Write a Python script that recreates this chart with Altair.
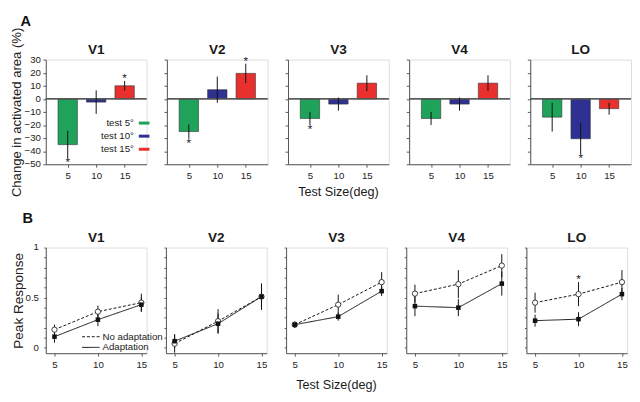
import altair as alt
import pandas as pd

# ---------------- data ----------------
regions = ["V1", "V2", "V3", "V4", "LO"]
sizes = [5, 10, 15]
size_labels = ["test 5°", "test 10°", "test 15°"]

# Panel A: change in activated area (%)
area_ticks = [-50, -40, -30, -20, -10, 0, 10, 20, 30]
area_change = {
    "V1": [-35, -2.5, 10],
    "V2": [-25, 7, 19.5],
    "V3": [-15, -4, 12],
    "V4": [-15, -4, 12],
    "LO": [-14, -30.5, -7.5],
}
area_err = {
    "V1": [10.5, 9, 3.7],
    "V2": [5.5, 10, 7.4],
    "V3": [5, 5, 6],
    "V4": [5, 5, 6],
    "LO": [11, 12, 4.6],
}
area_sig = {
    "V1": [1, 0, 1],
    "V2": [1, 0, 1],
    "V3": [1, 0, 0],
    "V4": [0, 0, 0],
    "LO": [0, 1, 0],
}

# Panel B: peak response
peak_ticks = [0, 0.1, 0.2, 0.3, 0.4, 0.5, 0.6, 0.7, 0.8, 0.9, 1]
peak_tick_labels = [0, 0.5, 1]
cond_labels = ["No adaptation", "Adaptation"]
no_adapt = {
    "V1": [0.18, 0.36, 0.45],
    "V2": [0.04, 0.265, 0.51],
    "V3": [0.23, 0.43, 0.655],
    "V4": [0.54, 0.635, 0.82],
    "LO": [0.45, 0.535, 0.655],
}
no_adapt_err = {
    "V1": [0.05, 0.06, 0.09],
    "V2": [0.09, 0.12, 0.13],
    "V3": [0.03, 0.1, 0.1],
    "V4": [0.09, 0.14, 0.115],
    "LO": [0.1, 0.12, 0.12],
}
adapt = {
    "V1": [0.11, 0.28, 0.43],
    "V2": [0.065, 0.24, 0.51],
    "V3": [0.23, 0.31, 0.565],
    "V4": [0.415, 0.40, 0.64],
    "LO": [0.27, 0.285, 0.535],
}
adapt_err = {
    "V1": [0.06, 0.065, 0.07],
    "V2": [0.07, 0.1, 0.13],
    "V3": [0.03, 0.04, 0.05],
    "V4": [0.1, 0.085, 0.12],
    "LO": [0.06, 0.07, 0.06],
}
peak_sig = {
    "V1": [0, 0, 0],
    "V2": [0, 0, 0],
    "V3": [0, 0, 0],
    "V4": [0, 0, 0],
    "LO": [0, 1, 0],
}
x_title = "Test Size(deg)"

# ---------------- style ----------------
FONT = "Liberation Sans"
bar_colors = ["#1fa25a", "#2e3192", "#e8312f"]
AX = "#555555"
PW = 104
HA = 108
HB = 109


def axis_common(**kw):
    base = dict(grid=False, domainColor=AX, tickColor=AX, labelFont=FONT,
                labelFontSize=10, labelColor="#222", titleFont=FONT,
                titleFontWeight="normal", titleColor="#222", tickSize=3,
                labelOverlap=False)
    base.update(kw)
    return alt.Axis(**base)


def text_layer(txt, x, y, size, weight="normal"):
    return alt.Chart(pd.DataFrame({"t": [txt]})).mark_text(
        font=FONT, fontSize=size, fontWeight=weight, color="#1a1a1a",
        baseline="middle").encode(text="t:N", x=alt.value(x), y=alt.value(y))


def tick_label_layer(values, ys, ya, xoff):
    return alt.Chart(pd.DataFrame({"tick": values})).mark_text(
        font=FONT, fontSize=10, color="#222", align="right", baseline="middle").encode(
        text=alt.Text("tick:Q", format="~g"), x=alt.value(xoff),
        y=alt.Y("tick:Q", scale=ys, axis=ya))


def panel_a(region, idx):
    first = idx == 0
    df = pd.DataFrame({
        "size": sizes,
        "cond": size_labels,
        "val": area_change[region],
        "err": area_err[region],
        "sig": area_sig[region],
    })
    df["lo"] = df["val"] - df["err"]
    df["hi"] = df["val"] + df["err"]
    df["zero"] = 0
    base = alt.Chart(df)
    xs = alt.Scale(domain=[2, 18], nice=False, zero=False)
    ys = alt.Scale(domain=[-50, 30], nice=False)
    xa = axis_common(values=sizes, title=None, labelPadding=4)
    ya = axis_common(values=area_ticks, labels=False,
                     title="Change in activated area (%)" if first else None,
                     titleFontSize=13.5, titlePadding=20)
    X = lambda f: alt.X(f, scale=xs, axis=xa)
    Y = lambda f: alt.Y(f, scale=ys, axis=ya)
    if first:
        leg = alt.Legend(title=None, orient="none", legendX=96, legendY=60,
                         symbolType="M-1,-0.28L1,-0.28L1,0.28L-1,0.28Z",
                         symbolSize=121, symbolStrokeWidth=0,
                         labelAlign="right", labelOffset={"expr": "-16"},
                         labelFont=FONT, labelFontSize=10, labelColor="#222",
                         rowPadding=2.5, padding=0)
    else:
        leg = None
    bars = base.mark_bar(size=20, stroke="#333", strokeWidth=0.6).encode(
        x=X("size:Q"), y=Y("val:Q"),
        color=alt.Color("cond:N", scale=alt.Scale(domain=size_labels, range=bar_colors),
                        legend=leg),
    )
    zero = base.mark_rule(color=AX, strokeWidth=1).encode(y=Y("zero:Q"))
    errs = base.mark_rule(color="#111", strokeWidth=1).encode(
        x=X("size:Q"), y=Y("lo:Q"), y2="hi:Q")
    star_neg = base.transform_filter("datum.sig == 1 && datum.val < 0").mark_text(
        text="*", baseline="top", fontSize=12, font=FONT, color="#111", dy=-1).encode(
        x=X("size:Q"), y=Y("lo:Q"))
    star_pos = base.transform_filter("datum.sig == 1 && datum.val > 0").mark_text(
        text="*", baseline="alphabetic", fontSize=12, font=FONT, color="#111", dy=1).encode(
        x=X("size:Q"), y=Y("hi:Q"))
    layers = [bars, zero, errs, star_neg, star_pos,
              text_layer(region, PW / 2, -10, 14, "bold")]
    if first:
        layers.append(tick_label_layer(area_ticks, ys, ya, -5))
    if idx == 2:
        layers.append(text_layer(x_title, PW / 2, HA + 29, 13))
    return alt.layer(*layers).properties(width=PW, height=HA)


def panel_b(region, idx):
    first = idx == 0
    rows = []
    for i, s in enumerate(sizes):
        rows.append({"size": s, "cond": cond_labels[0], "val": no_adapt[region][i],
                     "err": no_adapt_err[region][i], "sig": peak_sig[region][i]})
        rows.append({"size": s, "cond": cond_labels[1], "val": adapt[region][i],
                     "err": adapt_err[region][i], "sig": 0})
    df = pd.DataFrame(rows)
    df["lo"] = df["val"] - df["err"]
    df["hi"] = df["val"] + df["err"]
    base = alt.Chart(df)
    xs = alt.Scale(domain=[4, 15.6], nice=False, zero=False)
    ys = alt.Scale(domain=[-0.055, 1], nice=False, zero=False)
    xa = axis_common(values=sizes, title=None, labelPadding=4)
    ya = axis_common(values=peak_ticks, labels=False,
                     title="Peak Response" if first else None,
                     titleFontSize=14, titlePadding=19, tickSize=2)
    X = lambda f: alt.X(f, scale=xs, axis=xa)
    Y = lambda f: alt.Y(f, scale=ys, axis=ya)
    if first:
        leg = alt.Legend(title=None, orient="none", legendX=41.5, legendY=87,
                         symbolType="M-2,0L2,0", symbolSize=81,
                         symbolStrokeColor="#111", symbolStrokeWidth=1,
                         labelFont=FONT, labelFontSize=10, labelColor="#222",
                         labelOffset=7, rowPadding=1, padding=0)
    else:
        leg = None
    errs = base.mark_rule(color="#111", strokeWidth=1).encode(
        x=X("size:Q"), y=Y("lo:Q"), y2="hi:Q", detail="cond:N")
    lines = base.mark_line(color="#111", strokeWidth=1).encode(
        x=X("size:Q"), y=Y("val:Q"),
        strokeDash=alt.StrokeDash("cond:N", scale=alt.Scale(domain=cond_labels, range=[[3, 2], [1, 0]]),
                                  legend=leg))
    circles = base.transform_filter(alt.datum.cond == cond_labels[0]).mark_point(
        shape="circle", filled=True, fill="white", stroke="#111", strokeWidth=0.8,
        size=30, opacity=1).encode(x=X("size:Q"), y=Y("val:Q"))
    squares = base.transform_filter(alt.datum.cond == cond_labels[1]).mark_point(
        shape="square", filled=True, color="#111", size=22, opacity=1).encode(
        x=X("size:Q"), y=Y("val:Q"))
    star = base.transform_filter("datum.sig == 1").mark_text(
        text="*", baseline="alphabetic", fontSize=12, font=FONT, color="#111", dy=1).encode(
        x=X("size:Q"), y=Y("hi:Q"))
    layers = [lines, errs, circles, squares, star,
              text_layer(region, PW / 2, -10, 14, "bold")]
    if first:
        layers.append(tick_label_layer(peak_tick_labels, ys, ya, -7))
    if idx == 2:
        layers.append(text_layer(x_title, PW / 2, HB + 33, 13))
    return alt.layer(*layers).properties(width=PW, height=HB)


def row_title(letter, offset):
    return alt.TitleParams(letter, font=FONT, fontSize=15, fontWeight="bold",
                           color="#111", anchor="start", orient="top",
                           offset=offset, dx=12)


row_a = alt.hconcat(*[panel_a(r, i) for i, r in enumerate(regions)],
                    spacing=16, title=row_title("A", -2))
row_b = alt.hconcat(*[panel_b(r, i) for i, r in enumerate(regions)],
                    spacing=16, title=row_title("B", 5))

chart = alt.vconcat(row_a, row_b, spacing=11).resolve_scale(
    color="independent", strokeDash="independent"
).properties(
    padding=0,
).configure_view(stroke=None).configure(background="white")

chart.save("out.html", embed_options={"renderer": "svg", "actions": False})
